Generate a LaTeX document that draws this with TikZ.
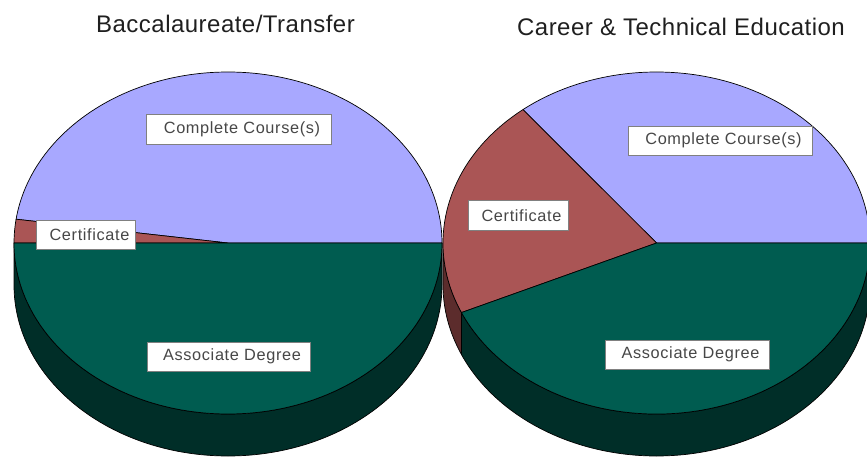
\documentclass[tikz,border=0pt]{standalone}
\usepackage{fontspec}
\setmainfont{Liberation Sans}
\newfontfamily\lblfont[LetterSpace=4]{Liberation Sans}
\newfontfamily\ttlfont[LetterSpace=2]{Liberation Sans}
\definecolor{lav}{HTML}{A8A8FF}
\definecolor{certred}{HTML}{AA5555}
\definecolor{assgreen}{HTML}{005C50}
\definecolor{sidegreen}{HTML}{002E28}
\definecolor{sidered}{HTML}{5C2C2C}
\definecolor{boxgray}{HTML}{808080}
\newcommand{\myslice}[7]{%
  \filldraw[fill=#7, piedge] (#1,#2) -- ++({#3*cos(#5)},{#4*sin(#5)})
    arc[start angle=#5, end angle=#6, x radius=#3pt, y radius=#4pt] -- cycle;}
\newcommand{\myside}[8]{%
  \filldraw[fill=#8, piedge] ({#1+#3*cos(#6)},{#2+#4*sin(#6)})
    arc[start angle=#6, end angle=#7, x radius=#3pt, y radius=#4pt] -- ++(0,-#5)
    arc[start angle=#7, end angle=#6, x radius=#3pt, y radius=#4pt] -- cycle;}
\begin{document}
\begin{tikzpicture}[x=1pt,y=1pt,
  piedge/.style={draw=black, line width=0.7pt, line join=round},
  lblbox/.style={draw=boxgray, fill=white, line width=0.8pt, inner sep=0pt,
    font=\lblfont\fontsize{16.3}{18}\selectfont, text=black!72},
  ttl/.style={anchor=base, font=\ttlfont\fontsize{24}{28}\selectfont, text=black!88}]
\useasboundingbox (0,0) rectangle (867,456);
\clip (0,0) rectangle (867,456);
% left pie
\myside{228}{213}{214}{171}{42}{180}{360}{sidegreen}
\myslice{228}{213}{214}{171}{0}{172}{lav}
\myslice{228}{213}{214}{171}{172}{180}{certred}
\myslice{228}{213}{214}{171}{180}{360}{assgreen}
% right pie
\myside{656.5}{213}{213.5}{171}{42}{180}{204}{sidered}
\myside{656.5}{213}{213.5}{171}{42}{204}{360}{sidegreen}
\myslice{656.5}{213}{213.5}{171}{0}{128.7}{lav}
\myslice{656.5}{213}{213.5}{171}{128.7}{204}{certred}
\myslice{656.5}{213}{213.5}{171}{204}{360}{assgreen}
% titles
\node[ttl] (t1) at (225.5,423) {Baccalaureate/Transfer};
\node[ttl] (t2) at (681,420) {Career \& Technical Education};
% labels
\node[lblbox, minimum width=185pt, minimum height=30pt] (lcc) at (238.5,327) {\hspace*{7pt}Complete Course(s)};
\node[lblbox, minimum width=99pt, minimum height=29pt] (lce) at (86,221.5) {\hspace*{7pt}Certificate};
\node[lblbox, minimum width=163pt, minimum height=29pt] (lad) at (228.5,99.5) {\hspace*{7pt}Associate Degree};
\node[lblbox, minimum width=184pt, minimum height=29pt] (rcc) at (720,315.5) {\hspace*{7pt}Complete Course(s)};
\node[lblbox, minimum width=100pt, minimum height=30pt] (rce) at (518,240.3) {\hspace*{7pt}Certificate};
\node[lblbox, minimum width=164pt, minimum height=29pt] (rad) at (687,101.5) {\hspace*{7pt}Associate Degree};
\end{tikzpicture}
\end{document}
